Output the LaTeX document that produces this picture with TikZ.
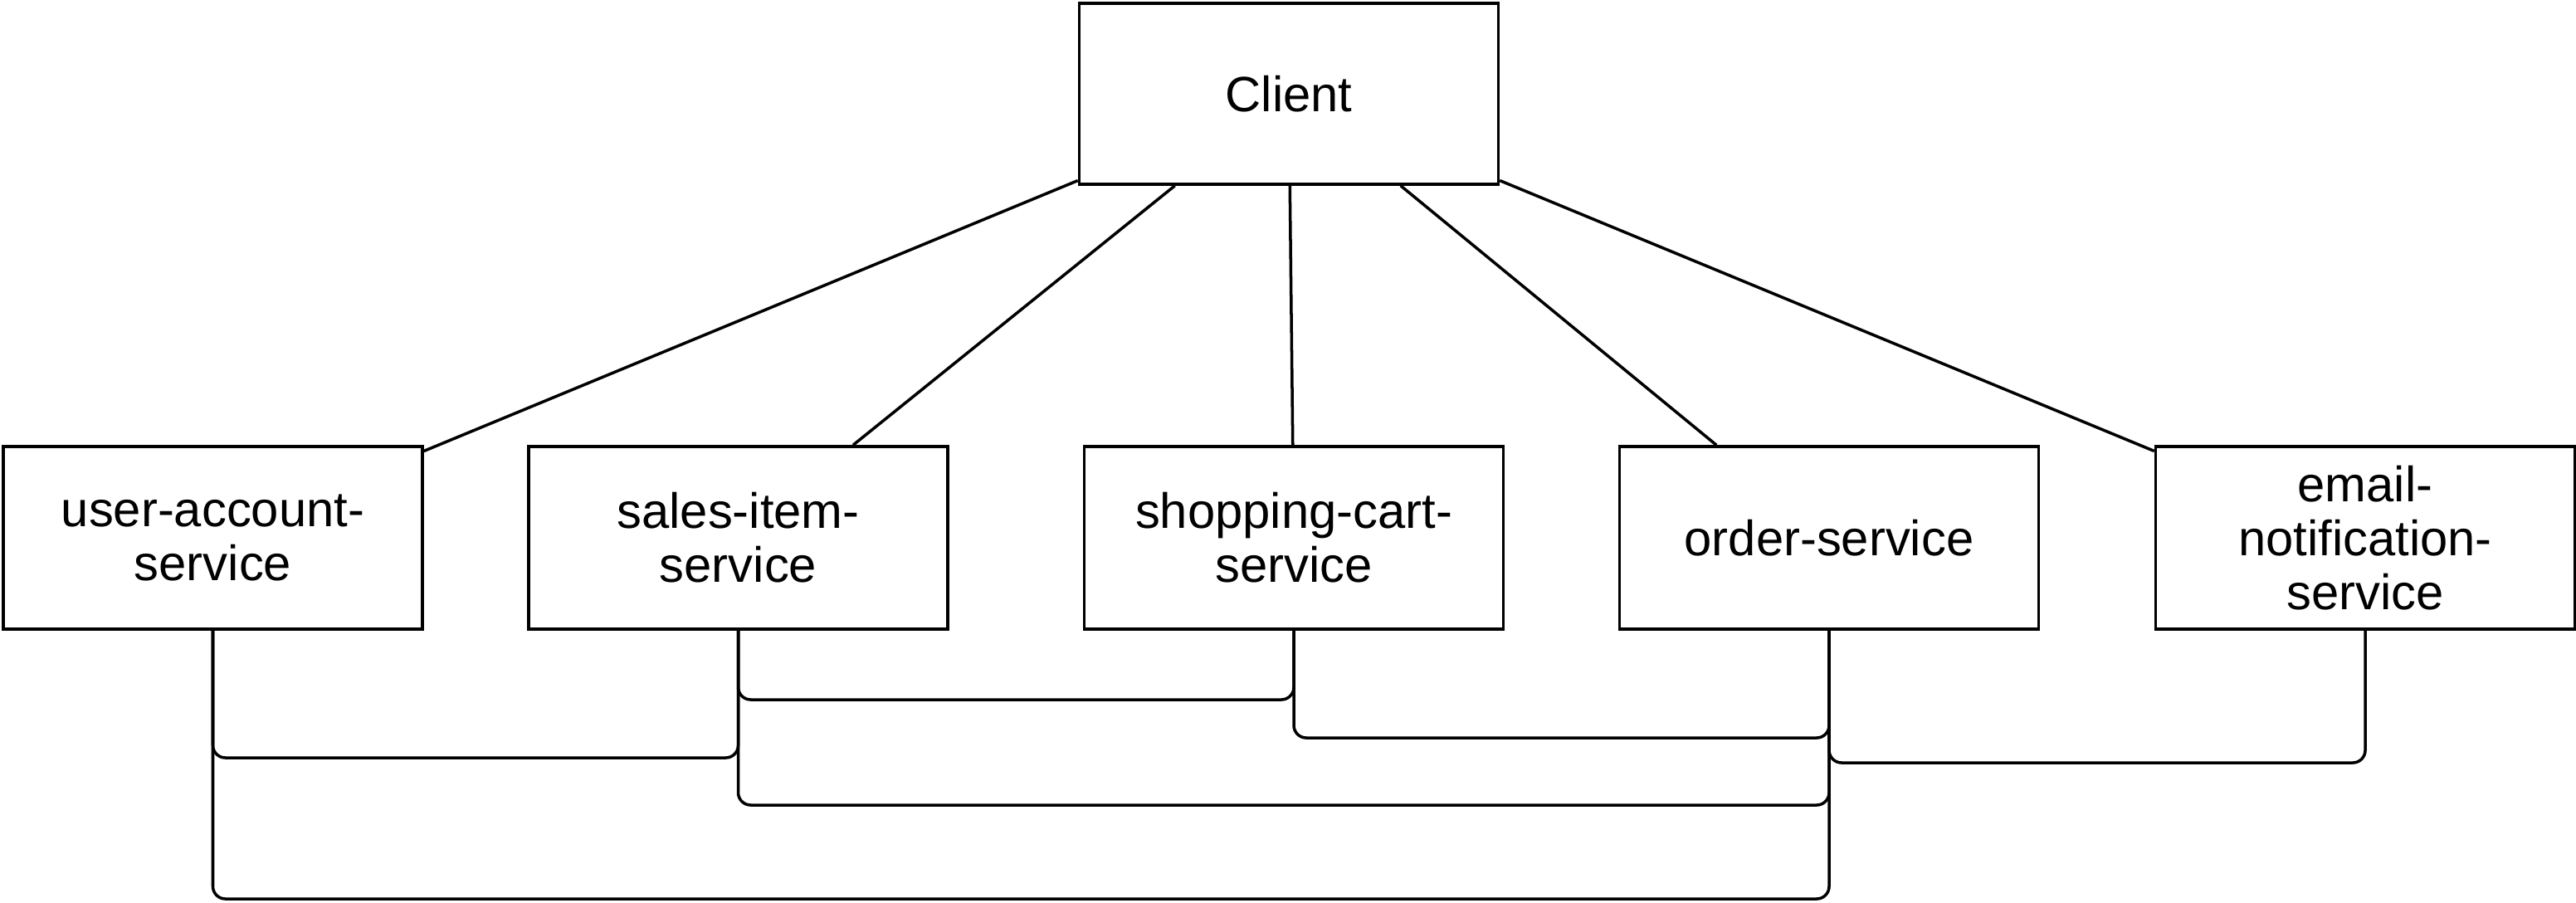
\documentclass[tikz,border=0pt]{standalone}
\usepackage{fontspec}
\setmainfont{Liberation Sans}
\tikzset{
	service/.style={draw, line width=1pt, minimum width=5.05cm, minimum height=2.2cm, align=center, font=\fontsize{17}{18.5}\selectfont},
	link/.style={line width=1pt},
	bus/.style={line width=1pt, rounded corners=0.15cm},
}

\begin{document}
\begin{tikzpicture}
			\useasboundingbox (0,0) rectangle (31.04,10.87);
			% row of the services
			\def\yrow{4.39}
			
			% levels of the lines under the services
			\def\ya{2.44}
			\def\yb{1.98}
			\def\yc{1.74}
			\def\yd{1.68}
			\def\ye{1.17}
			\def\yf{0.04}
			
			% the client and the services
			\node[service, minimum height=2.18cm] (client) at (15.53,9.74) {Client};
			\node[service] (user) at (2.565,\yrow) {user-account-\\service};
			\node[service] (sales) at (8.895,\yrow) {sales-item-\\service};
			\node[service] (cart) at (15.59,\yrow) {shopping-cart-\\service};
			\node[service] (order) at (22.04,\yrow) {order-service};
			\node[service] (email) at (28.50,\yrow) {email-\\notification-\\service};
			
			% client to every service
			\draw[link] (client) -- (user);
			\draw[link] (client) -- (sales);
			\draw[link] (client) -- (cart);
			\draw[link] (client) -- (order);
			\draw[link] (client) -- (email);
			
			% services to each other
			\draw[bus] (sales.south) -- (sales.south |- 0,\ya) -| (cart.south);
			\draw[bus] (cart.south) -- (cart.south |- 0,\yb) -| (order.south);
			\draw[bus] (user.south) -- (user.south |- 0,\yc) -| (sales.south);
			\draw[bus] (order.south) -- (order.south |- 0,\yd) -| (email.south);
			\draw[bus] (sales.south) -- (sales.south |- 0,\ye) -| (order.south);
			\draw[bus] (user.south) -- (user.south |- 0,\yf) -| (order.south);
			
			\end{tikzpicture}
\end{document}
